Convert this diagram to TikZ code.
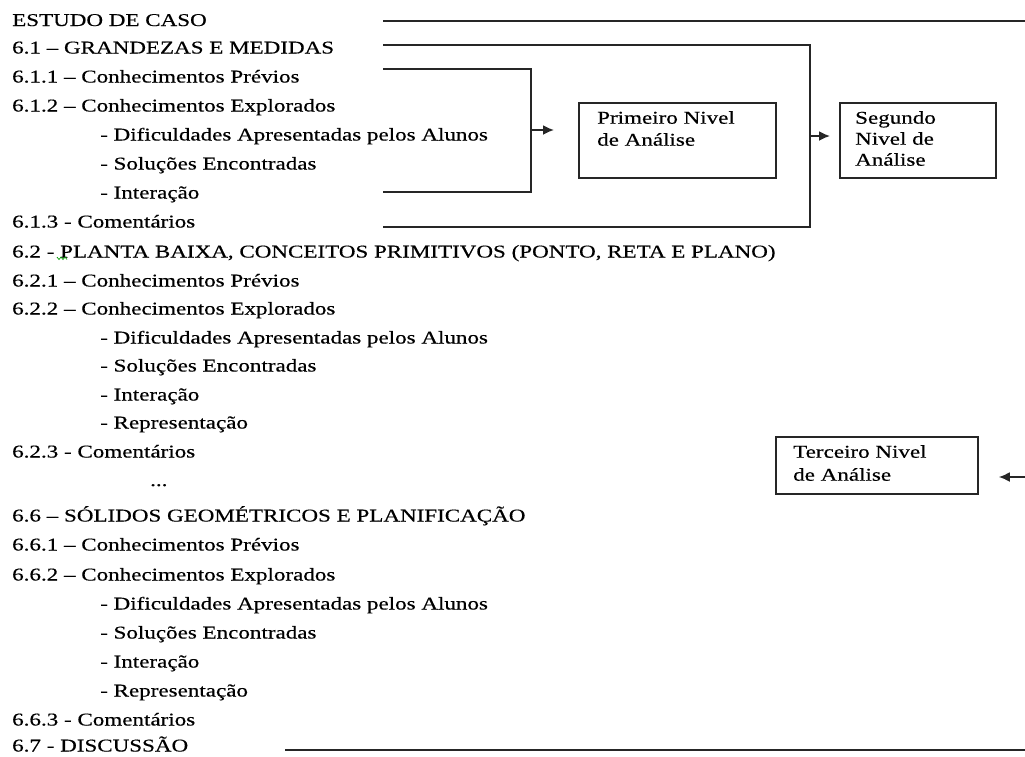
\documentclass[tikz,border=0pt]{standalone}
\usepackage{fontspec}
\setmainfont{Liberation Serif}[FakeStretch=1.28, FakeBold=0.45]
\usetikzlibrary{arrows.meta}
\newcommand\rowfont{\fontsize{18pt}{22pt}\selectfont}
\tikzset{
  item/.style={anchor=base west, inner sep=0pt, font=\rowfont},
  link/.style={line width=1.8pt, draw=black!85},
  arrowlink/.style={link, -{Latex[length=11pt,width=10pt]}},
  levelbox/.style={draw=black!85, line width=1.8pt, inner sep=0pt, anchor=north west},
  boxtext/.style={anchor=north west, inner sep=0pt, align=left, font=\rowfont},
}
\begin{document}
\begin{tikzpicture}[x=1pt, y=-1pt]
\useasboundingbox (0,0) rectangle (1025,756);

% outline of the study chapter
\node[item] (r0)  at (12,26)    {ESTUDO DE CASO};
\node[item] (r1)  at (12,53.5)  {6.1 – GRANDEZAS E MEDIDAS};
\node[item] (r2)  at (12,82.5)  {6.1.1 – Conhecimentos Prévios};
\node[item] (r3)  at (12,111.5) {6.1.2 – Conhecimentos Explorados};
\node[item] (r4)  at (100,140.5) {- Dificuldades Apresentadas pelos Alunos};
\node[item] (r5)  at (100,169.5) {- Soluções Encontradas};
\node[item] (r6)  at (100,198.5) {- Interação};
\node[item] (r7)  at (12,227.5) {6.1.3 - Comentários};
\node[item] (r8)  at (12,257.5) {6.2 - PLANTA BAIXA, CONCEITOS PRIMITIVOS (PONTO, RETA E PLANO)};
\node[item] (r9)  at (12,286.5) {6.2.1 – Conhecimentos Prévios};
\node[item] (r10) at (12,314.5) {6.2.2 – Conhecimentos Explorados};
\node[item] (r11) at (100,343.5) {- Dificuldades Apresentadas pelos Alunos};
\node[item] (r12) at (100,371.5) {- Soluções Encontradas};
\node[item] (r13) at (100,400.5) {- Interação};
\node[item] (r14) at (100,428.5) {- Representação};
\node[item] (r15) at (12,457.5) {6.2.3 - Comentários};
\node[item] (r16) at (150,486)  {...};
\node[item] (r17) at (12,521.5) {6.6 – SÓLIDOS GEOMÉTRICOS E PLANIFICAÇÃO};
\node[item] (r18) at (12,550.5) {6.6.1 – Conhecimentos Prévios};
\node[item] (r19) at (12,580.5) {6.6.2 – Conhecimentos Explorados};
\node[item] (r20) at (100,609.5) {- Dificuldades Apresentadas pelos Alunos};
\node[item] (r21) at (100,638.5) {- Soluções Encontradas};
\node[item] (r22) at (100,667.5) {- Interação};
\node[item] (r23) at (100,696.5) {- Representação};
\node[item] (r24) at (12,725.5) {6.6.3 - Comentários};
\node[item] (r25) at (12,751.5) {6.7 - DISCUSSÃO};

% spell-check mark after "6.2 -"
\draw[green!60!black, line width=0.7pt]
  (57,257) -- (59,259.5) -- (61,257) -- (63,259.5) -- (65,257) -- (67,259.5);

% analysis levels
\node[levelbox, minimum width=197pt, minimum height=75pt] (p1) at (578,102) {};
\node[boxtext] (p1t) at (597,111) {Primeiro Nivel\\de Análise};
\node[levelbox, minimum width=156pt, minimum height=75pt] (p2) at (839,102) {};
\node[boxtext, font=\fontsize{18pt}{21pt}\selectfont] (p2t) at (855,111) {Segundo\\Nivel de\\Análise};
\node[levelbox, minimum width=202pt, minimum height=57pt] (p3) at (775,436) {};
\node[boxtext, font=\fontsize{18pt}{23pt}\selectfont] (p3t) at (793,445) {Terceiro Nivel\\de Análise};

% bracket ends
\coordinate (t1) at (383,20.7);
\coordinate (t2) at (1025,20.7);
\coordinate (ob1) at (383,45);
\coordinate (ob2) at (383,227);
\coordinate (oc) at (810,136);
\coordinate (ib1) at (383,69);
\coordinate (ib2) at (383,192);
\coordinate (ic) at (531,130);
\coordinate (t3) at (1025,477);
\coordinate (b1) at (285,750);
\coordinate (b2) at (1025,750);

\draw[link] (t1) -- (t2);
\draw[link] (ob1) -| (oc) |- (ob2);
\draw[link] (ib1) -| (ic) |- (ib2);
\draw[link] (b1) -- (b2);

\draw[arrowlink, shorten >=24pt] (ic) -- (ic -| p1.west);
\draw[arrowlink, shorten >=9pt] (oc) -- (oc -| p2.west);
\draw[arrowlink, shorten >=20pt] (t3) -- (t3 -| p3.east);
\end{tikzpicture}
\end{document}
